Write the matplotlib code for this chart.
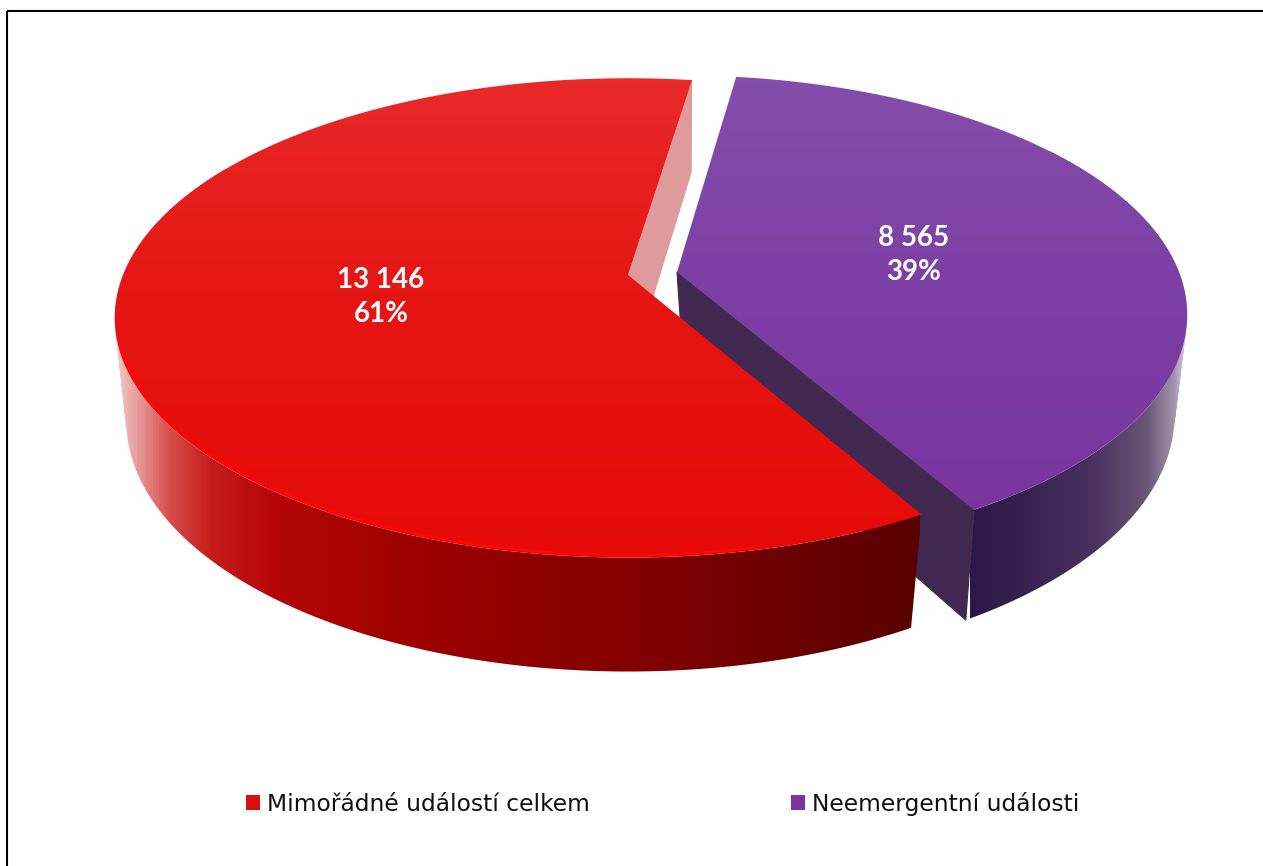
import numpy as np
import matplotlib
matplotlib.use("Agg")
from matplotlib import pyplot as plt
from matplotlib.colors import LinearSegmentedColormap
from matplotlib.patches import PathPatch, Rectangle, Polygon
from matplotlib.path import Path

categories = ["Mimořádné událostí celkem", "Neemergentní události"]
values = [13146, 8565]
value_labels = ["13 146", "8 565"]

W, H = 1263, 866
K_TOP = 0.179
K_BOT = 0.163


def rim(center, a, b, k, theta):
    # perspective projection of a circle, center is where the circle's middle lands
    th = np.radians(theta)
    w = 1 + k * np.sin(th)
    return np.column_stack([center[0] + a * np.cos(th) / w, center[1] - b * np.sin(th) / w])


def gradient(ax, clip, stops, vertical, zorder):
    cmap = LinearSegmentedColormap.from_list("g", [(p, c) for p, c in stops])
    grad = np.linspace(0, 1, 512)
    grad = grad[:, None] if vertical else grad[None, :]
    lo, hi = stops_range
    ext = [0, W, hi, lo] if vertical else [lo, hi, H, 0]
    im = ax.imshow(grad, cmap=cmap, extent=ext, aspect="auto", zorder=zorder, origin="upper",
                   interpolation="bilinear")
    patch = PathPatch(clip, transform=ax.transData, fc="none", ec="none")
    ax.add_patch(patch)
    im.set_clip_path(patch)


def wall_path(p_top, p_bot):
    # union of quads, all wound the same way so the clip fills as one shape
    verts, codes = [], []
    for i in range(len(p_top) - 1):
        q = np.array([p_top[i], p_top[i + 1], p_bot[i + 1], p_bot[i]])
        x, y = q[:, 0], q[:, 1]
        if np.sum(x * np.roll(y, -1) - np.roll(x, -1) * y) < 0:
            q = q[::-1]
        verts += list(q) + [q[0]]
        codes += [Path.MOVETO, Path.LINETO, Path.LINETO, Path.LINETO, Path.CLOSEPOLY]
    return Path(np.array(verts), codes)


def top_path(center, a, b, k, t0, t1):
    arc = rim(center, a, b, k, np.linspace(t0, t1, 300))
    return Path(np.vstack([[center], arc, [center]]))


fig = plt.figure(figsize=(W / 100, H / 100), dpi=100)
ax = fig.add_axes([0, 0, 1, 1])

total = sum(values)
span_red = 360 * values[0] / total
span_pur = 360 * values[1] / total
red_start = 81.4
pur_end = -60.0
pur_start = pur_end + span_pur

red_top = (628, 275)
red_bot = (628, 380)
pur_top = (677, 272)
pur_bot = (684, 374)

# purple slice, behind the red one
t = np.linspace(pur_end, 35, 300)
stops_range = (970, 1190)
gradient(ax, wall_path(rim(pur_top, 502, 232, K_TOP, t), rim(pur_bot, 484, 244, K_BOT, t)),
         [(0, "#2c1847"), (0.2, "#33204c"), (0.55, "#49305f"), (0.8, "#685475"),
          (0.93, "#a294ad"), (1, "#e6e0ea")], False, 2)
pe_t = rim(pur_top, 502, 232, K_TOP, [pur_end])[0]
pe_b = rim(pur_bot, 484, 244, K_BOT, [pur_end])[0]
ax.add_patch(Polygon([pur_top, pe_t, pe_b, pur_bot], fc="#402851", ec="#402851", lw=0.8, zorder=3))
stops_range = (70, 520)
gradient(ax, top_path(pur_top, 502, 232, K_TOP, pur_end, pur_start),
         [(0, "#854eab"), (0.5, "#7c3fa4"), (1, "#7a349f")], True, 4)

# red slice
rs_t = rim(red_top, 505, 232, K_TOP, [red_start])[0]
rs_b = rim(red_bot, 495, 244, K_BOT, [red_start])[0]
ax.add_patch(Polygon([red_top, rs_t, rs_b, red_bot], fc="#df9a9c", ec="none", zorder=5))
t = np.linspace(150, red_start + span_red, 400)
stops_range = (112, 920)
gradient(ax, wall_path(rim(red_top, 505, 232, K_TOP, t), rim(red_bot, 495, 244, K_BOT, t)),
         [(0, "#f5d0d0"), (0.03, "#e89a9b"), (0.07, "#d84c4c"), (0.12, "#c61c1c"),
          (0.2, "#b40606"), (0.4, "#9a0000"), (0.65, "#820000"), (1, "#580000")], False, 6)
stops_range = (70, 560)
red_path = top_path(red_top, 505, 232, K_TOP, red_start, red_start + span_red)
gradient(ax, red_path, [(0, "#e92a2a"), (0.45, "#e51614"), (1, "#e60a07")], True, 7)

# bright edge along the front rim
hl = rim(red_top, 503, 230, K_TOP, np.linspace(197, 282, 200))
ax.plot(hl[:, 0], hl[:, 1], color="#ff0606", lw=2, zorder=8, solid_capstyle="butt")

# labels on the slices
pos_x = [381, 914]
pos_y = [297, 255]
for i in range(2):
    ax.text(pos_x[i], pos_y[i], "%s\n%d%%" % (value_labels[i], round(100 * values[i] / total)),
            color="white", fontsize=20, fontweight="bold", family="Lato", ha="center", va="center",
            linespacing=1.42, zorder=10)

# frame, only top and left are inside the picture
ax.add_patch(Rectangle((7, 11), W + 20, H + 20, fc="none", ec="black", lw=1.5, zorder=1))

handles = [Rectangle((0, 0), 1, 1, fc="#d81010", ec="none"), Rectangle((0, 0), 1, 1, fc="#7a349f", ec="none")]
ax.legend(handles, categories, ncol=2, loc="center left", bbox_to_anchor=(246 / W, 1 - 804 / H),
          bbox_transform=ax.transAxes, frameon=False, borderpad=0, borderaxespad=0,
          handlelength=0.6, handleheight=0.6, handletextpad=0.3, columnspacing=8.6,
          prop={"family": "DejaVu Sans", "size": 16.8}, labelcolor="#111111")

ax.set_xlim(0, W)
ax.set_ylim(H, 0)
ax.axis("off")
fig.savefig("out.png", dpi=100)
